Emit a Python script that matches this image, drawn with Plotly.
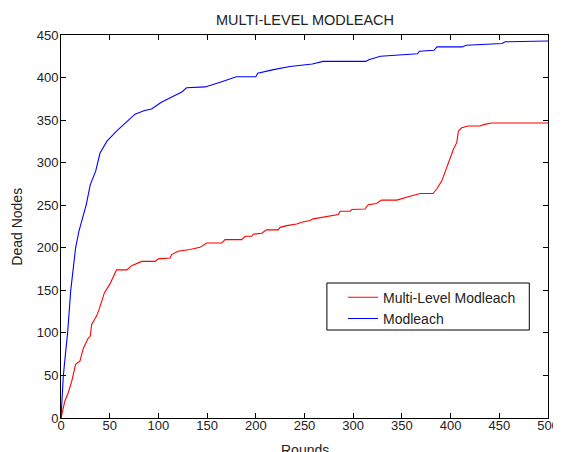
import plotly.graph_objects as go

# Multi-Level Modleach (red)
ml_rounds = [0, 0.7, 4, 7.5, 11, 15, 19.5, 23, 28, 30, 31.5, 36.6, 39, 44.5, 50, 57, 67.5, 72.5, 83, 96.5,
             100, 112, 113.6, 120, 129, 132.5, 142.7, 149.6, 165, 168.4, 185.5, 189, 195.8, 197.4, 206,
             211, 223, 225, 231.7, 242, 247, 255.6, 259, 269, 278, 284.7, 286.5, 297, 298.5, 312, 315.5,
             324, 329, 344.7, 356.6, 368.6, 382, 385.7, 391, 394, 397.7, 403, 406.3, 408, 411.4, 418,
             430, 435, 442, 500]
ml_dead = [0, 4, 20, 30, 43, 63, 67, 82, 94, 96, 110, 120, 127, 147, 157, 174, 174, 179, 184, 184,
           187, 188, 192, 196, 197, 198, 200.5, 205.6, 205.6, 209.6, 209.6, 213.5, 213.5, 216, 217,
           221, 221, 224, 226, 228, 230, 232, 234, 236, 238, 239, 243, 243, 245, 245.5, 250.6,
           252, 256, 256, 260, 263.7, 263.7, 269, 278.6, 288, 302, 316, 323.5, 337, 341, 343,
           343, 345, 346.6, 346.6]

# Modleach (blue)
m_rounds = [0, 1, 2.4, 5, 6.8, 10, 15, 18.5, 22, 26, 30, 33, 35.6, 40, 47, 57, 67, 76, 85, 93, 103,
            115, 124, 129, 148, 165, 180, 200, 202, 217, 235, 258, 269, 313, 316, 328, 342, 350, 366,
            368, 383, 386, 412, 416, 430, 453, 456, 500]
m_dead = [0, 20, 50, 80, 100, 150, 200, 220, 235, 251, 274, 282, 290, 311, 325, 337, 348, 357, 361,
          363, 371, 378, 383, 388, 389, 395, 401, 401, 405, 409, 413, 416, 419, 419, 421, 425, 426,
          427, 428, 431, 432, 436, 436, 438, 439, 440, 442, 443]

x_ticks = list(range(0, 501, 50))
y_ticks = list(range(0, 451, 50))

FONT = "Liberation Sans, Arial, sans-serif"

fig = go.Figure()
fig.add_trace(go.Scatter(x=ml_rounds, y=ml_dead, mode="lines", name="Multi-Level Modleach",
                         line=dict(color="#ff0000", width=1.1)))
fig.add_trace(go.Scatter(x=m_rounds, y=m_dead, mode="lines", name="Modleach",
                         line=dict(color="#0000ff", width=1.1)))

axis_common = dict(showline=True, linecolor="black", linewidth=1, mirror="ticks", ticks="inside",
                   ticklen=5, tickcolor="black", showgrid=False, zeroline=False, automargin=False,
                   ticklabeloverflow="allow",
                   tickfont=dict(family=FONT, size=13, color="#222"))
fig.update_xaxes(range=[0, 500], tickvals=x_ticks, ticklabelstandoff=-5, **axis_common)
fig.update_yaxes(range=[0, 450], tickvals=y_ticks, ticklabelstandoff=-1, **axis_common)

# page body has an 8px margin, so the figure is sized/positioned to compensate
fig.update_layout(
    width=553, height=444,
    margin=dict(l=53, r=13, t=27, b=34, pad=0),
    paper_bgcolor="white", plot_bgcolor="white",
    showlegend=True,
    legend=dict(x=0.579, y=0.356, xanchor="left", yanchor="top",
                borderwidth=0, bgcolor="rgba(0,0,0,0)",
                font=dict(family=FONT, size=14, color="#222"),
                tracegroupgap=0, itemwidth=30),
    shapes=[dict(type="rect", xref="paper", yref="paper", x0=0.546, x1=0.9616, y0=0.2297, y1=0.3525,
                 line=dict(color="black", width=1), fillcolor="white", layer="above")],
    annotations=[
        dict(text="MULTI-LEVEL MODLEACH", x=0.5, y=1.039, xref="paper", yref="paper",
             xanchor="center", yanchor="middle", showarrow=False,
             font=dict(family=FONT, size=14.5, color="#222")),
        dict(text="Rounds", x=0.5, y=-0.058, xref="paper", yref="paper",
             xanchor="center", yanchor="top", showarrow=False,
             font=dict(family=FONT, size=14, color="#222")),
        dict(text="Dead Nodes", x=-0.092, y=0.5, xref="paper", yref="paper",
             xanchor="center", yanchor="middle", showarrow=False, textangle=-90,
             font=dict(family=FONT, size=14, color="#222")),
    ],
)

fig.write_html("out.html")
